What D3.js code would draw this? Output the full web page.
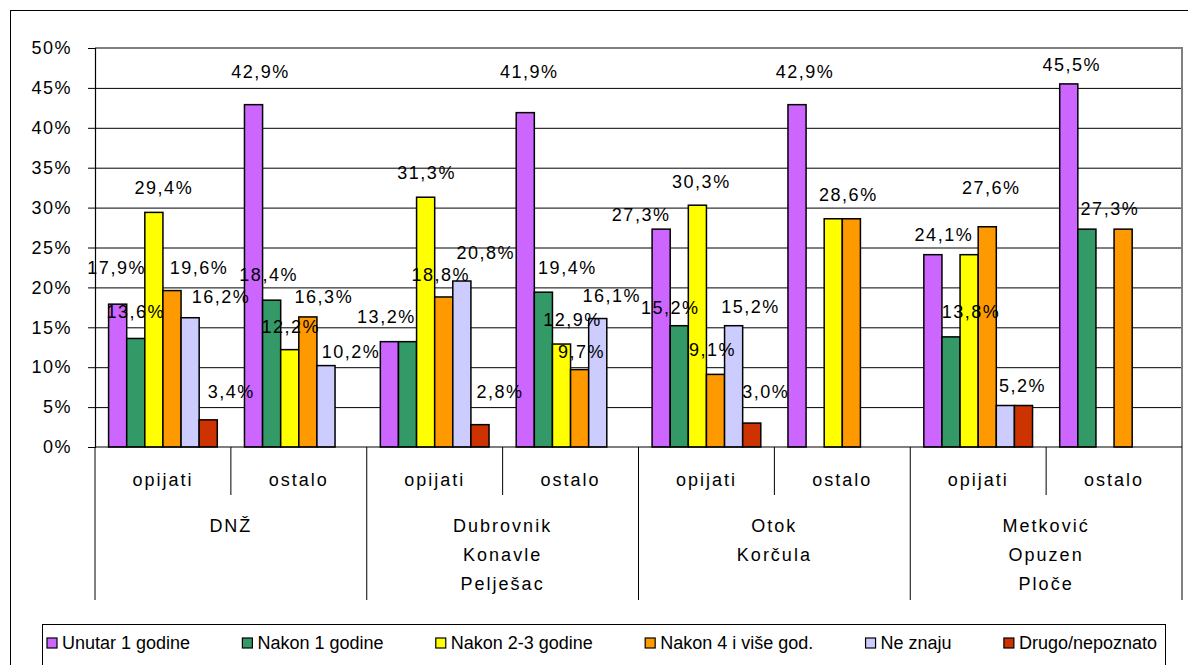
<!DOCTYPE html>
<html>
<head>
<meta charset="utf-8">
<script src="https://cdn.jsdelivr.net/npm/d3@7/dist/d3.min.js"></script>
<style>
  html, body { margin: 0; padding: 0; background: #fff; }
  svg { display: block; }
</style>
</head>
<body>
<script>
// ---------------- data ----------------
const groups = [["DNŽ"], ["Dubrovnik", "Konavle", "Pelješac"], ["Otok", "Korčula"], ["Metković", "Opuzen", "Ploče"]];
const subcats = ["opijati", "ostalo"];
const seriesNames = ["Unutar 1 godine", "Nakon 1 godine", "Nakon 2-3 godine", "Nakon 4 i više god.", "Ne znaju", "Drugo/nepoznato"];
// order of categories: DNŽ opijati, DNŽ ostalo, Dubrovnik opijati, Dubrovnik ostalo, Otok opijati, Otok ostalo, Metković opijati, Metković ostalo
const unutar1  = [17.9, 42.9, 13.2, 41.9, 27.3, 42.9, 24.1, 45.5];
const nakon1   = [13.6, 18.4, 13.2, 19.4, 15.2, null, 13.8, 27.3];
const nakon23  = [29.4, 12.2, 31.3, 12.9, 30.3, 28.6, 24.1, null];
const nakon4   = [19.6, 16.3, 18.8, 9.7, 9.1, 28.6, 27.6, 27.3];
const neZnaju  = [16.2, 10.2, 20.8, 16.1, 15.2, null, 5.2, null];
const drugo    = [3.4, null, 2.8, null, 3.0, null, 5.2, null];
const yTicks   = [0, 5, 10, 15, 20, 25, 30, 35, 40, 45, 50];

const seriesValues = [unutar1, nakon1, nakon23, nakon4, neZnaju, drugo];

// ---------------- styles / layout ----------------
const colors = ["#CC66FF", "#339966", "#FFFF00", "#FF9900", "#CCCCFF", "#CC3300"];
// manual label placement of the original (dx, dy of label centre relative to bar centre / bar top); null = label not shown
const labelOffset = [
  [[-1,-36],[7,-33],[-3,-25],[4,-41],[-20,-14],[8,-33],[11,-20],[3,-19]],
  [[0,-26],[-3,-25],null,[24,-24],[-9,-18],null,[20,-25],[23,-20]],
  [[10,-24],[1,-23],[1,-24],[11,-24],[4,-23],null,null,null],
  [[27,-23],[16,-20],[-3,-22],[2,-18],[-3,-24],[-3,-24],[4,-39],null],
  [[31,-21],[25,-14],[24,-28],[14,-23],[17,-19],null,null,null],
  [[23,-28],null,[20,-33],null,[14,-31],null,[-1,-20],null]
];

const W = 1188, H = 665;
const plot = { left: 95, right: 1182, top: 48, bottom: 447 };
const FONT = "'Liberation Sans', Arial, Helvetica, sans-serif";

const svg = d3.select("body").append("svg")
  .attr("width", W).attr("height", H)
  .style("font-family", FONT);

svg.append("rect").attr("width", W).attr("height", H).attr("fill", "#fff");
// outer chart border (right and bottom edges fall outside the picture)
svg.append("rect")
  .attr("x", 10.5).attr("y", 10.5)
  .attr("width", 1200).attr("height", 700)
  .attr("fill", "none").attr("stroke", "#000").attr("stroke-width", 1);

const nCats = groups.length * subcats.length;
const x0 = d3.scaleBand().domain(d3.range(nCats)).range([plot.left, plot.right]).padding(0);
const x1 = d3.scaleBand().domain(d3.range(seriesNames.length)).range([0, x0.bandwidth()])
  .paddingInner(0).paddingOuter(0.75);
const y = d3.scaleLinear().domain([0, 50]).range([plot.bottom, plot.top]);

// gridlines
svg.append("g")
  .attr("transform", `translate(${plot.left},0)`)
  .call(d3.axisLeft(y).tickValues(yTicks.filter(t => t > 0 && t < 50)).tickSize(-(plot.right - plot.left)).tickFormat(""))
  .call(g => g.select(".domain").remove())
  .call(g => g.selectAll("line").attr("stroke", "#000").attr("stroke-width", 1));

// plot border (top / right) grey
svg.append("path")
  .attr("d", `M${plot.left},${y(50)}H${plot.right}V${plot.bottom}`)
  .attr("fill", "none").attr("stroke", "#808080").attr("stroke-width", 2);

// y axis
const yAxis = svg.append("g")
  .attr("transform", `translate(${plot.left},0)`)
  .call(d3.axisLeft(y).tickValues(yTicks).tickSize(7).tickPadding(16).tickFormat(d => d + "%"));
yAxis.select(".domain").attr("stroke", "#000").attr("stroke-width", 1.2);
yAxis.selectAll("line").attr("stroke", "#000");
yAxis.selectAll("text").attr("font-size", 18).attr("font-family", FONT).attr("fill", "#000")
  .style("letter-spacing", "1.5px");

// bars
const fmt = v => d3.format(".1f")(v).replace(".", ",") + "%";
const barData = [];
seriesValues.forEach((arr, s) => arr.forEach((v, c) => {
  if (v != null) barData.push({ s, c, v });
}));

svg.append("g").selectAll("rect").data(barData).join("rect")
  .attr("x", d => x0(d.c) + x1(d.s))
  .attr("y", d => y(d.v))
  .attr("width", x1.bandwidth())
  .attr("height", d => y(0) - y(d.v))
  .attr("fill", d => colors[d.s])
  .attr("stroke", "#000").attr("stroke-width", 1.5);

// x axis line
svg.append("line")
  .attr("x1", plot.left).attr("x2", plot.right)
  .attr("y1", y(0)).attr("y2", y(0))
  .attr("stroke", "#000").attr("stroke-width", 1.2);

// data labels
svg.append("g").selectAll("text")
  .data(barData.filter(d => labelOffset[d.s][d.c]))
  .join("text")
  .attr("x", d => x0(d.c) + x1(d.s) + x1.bandwidth() / 2 + labelOffset[d.s][d.c][0])
  .attr("y", d => y(d.v) + labelOffset[d.s][d.c][1])
  .attr("text-anchor", "middle")
  .attr("dominant-baseline", "central")
  .attr("font-size", 18)
  .style("letter-spacing", "1.5px")
  .attr("fill", "#000")
  .text(d => fmt(d.v));

// category separators
const boundaries = d3.range(nCats + 1);
svg.append("g").selectAll("line").data(boundaries).join("line")
  .attr("x1", i => i < nCats ? x0(i) : plot.right)
  .attr("x2", i => i < nCats ? x0(i) : plot.right)
  .attr("y1", y(0))
  .attr("y2", i => i % subcats.length === 0 ? 600 : 495)
  .attr("stroke", "#000").attr("stroke-width", 1);

// subcategory labels
svg.append("g").selectAll("text").data(d3.range(nCats)).join("text")
  .attr("x", i => x0(i) + x0.bandwidth() / 2)
  .attr("y", 480)
  .attr("text-anchor", "middle").attr("dominant-baseline", "central")
  .attr("font-size", 18).style("letter-spacing", "2px")
  .text(i => subcats[i % subcats.length]);

// group labels
const gLab = svg.append("g").selectAll("text").data(groups).join("text")
  .attr("text-anchor", "middle")
  .attr("font-size", 18).style("letter-spacing", "2px");
gLab.each(function(lines, gi) {
  const cx = x0(gi * subcats.length) + x0.bandwidth() * subcats.length / 2;
  d3.select(this).selectAll("tspan").data(lines).join("tspan")
    .attr("x", cx)
    .attr("y", (d, k) => 526 + k * 29)
    .attr("dominant-baseline", "central")
    .text(d => d);
});

// legend
const legend = svg.append("g");
legend.append("rect")
  .attr("x", 42.5).attr("y", 624.5).attr("width", 1123).attr("height", 80)
  .attr("fill", "#fff").attr("stroke", "#000").attr("stroke-width", 1);

const items = legend.selectAll("g.item").data(seriesNames).join("g").attr("class", "item");
items.append("rect")
  .attr("width", 10).attr("height", 10).attr("y", 638)
  .attr("fill", (d, i) => colors[i]).attr("stroke", "#000").attr("stroke-width", 1.2);
items.append("text")
  .attr("x", 15).attr("y", 643)
  .attr("dominant-baseline", "central")
  .attr("font-size", 18)
  .text(d => d);
// sequential placement across the legend box
const widths = [];
items.select("text").each(function() { widths.push(this.getComputedTextLength()); });
const start = 47, end = 1157;
const total = d3.sum(widths) + 15 * widths.length;
const gap = (end - start - total) / (widths.length - 1);
let cur = start;
items.each(function(d, i) {
  d3.select(this).attr("transform", `translate(${cur},0)`);
  cur += 15 + widths[i] + gap;
});
</script>
</body>
</html>
